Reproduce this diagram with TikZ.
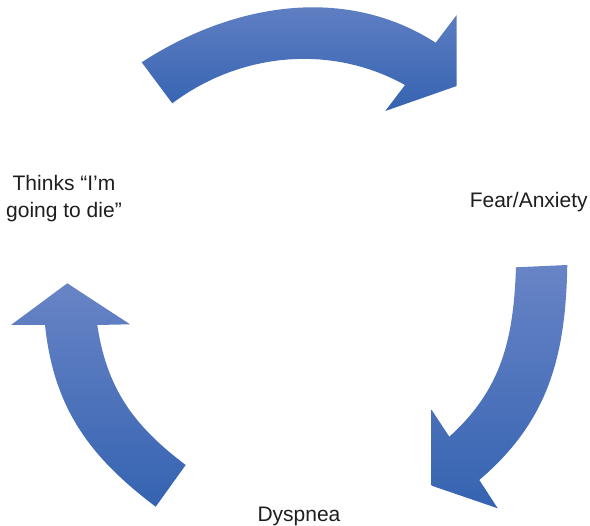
\documentclass[tikz,border=0pt]{standalone}
\usepackage{fontspec}
\setmainfont{Liberation Sans}
\definecolor{arrtop}{RGB}{104,132,198}
\definecolor{arrbot}{RGB}{53,99,177}
\definecolor{txt}{RGB}{30,30,30}
\begin{document}
\begin{tikzpicture}[x=1pt,y=-1pt,
  blockarrow/.style={top color=arrtop,bottom color=arrbot,draw=none},
  lbl/.style={font=\fontsize{21}{26.5}\selectfont,text=txt,inner sep=0pt,anchor=base}]
\path[use as bounding box] (0,0) rectangle (590,526);
% top arrow
\path[blockarrow] (141.7,62.3) to[out=33,in=147.3,looseness=0.94] (435.7,42.7)
  -- (456.7,15) -- (456.7,86) -- (385.3,111) -- (405,85)
  to[out=150.9,in=36.9,looseness=0.93] (172.3,103.3) -- cycle;
% right arrow
\path[blockarrow] (516,267.3) -- (567.3,265)
  to[out=-91,in=40.4,looseness=1] (479.3,480)
  -- (497.7,508.3) -- (431.7,485.7) -- (431.7,410) -- (449.3,436.7)
  to[out=42,in=-92] (516,267.3) -- cycle;
% left arrow
\path[blockarrow] (155.7,506.7) to[out=143,in=-84] (45,325)
  -- (11,325) -- (67.3,283.3) -- (130,324.3) -- (97.3,325)
  to[out=-81.5,in=143] (185.7,465) -- cycle;
% labels
\node[lbl] (think1) at (64,191) {Thinks “I’m};
\node[lbl] (think2) at (64,217.7) {going to die”};
\node[lbl] (fear) at (528.7,207.7) {Fear/Anxiety};
\node[lbl] (dysp) at (299,521.7) {Dyspnea};
\end{tikzpicture}
\end{document}
